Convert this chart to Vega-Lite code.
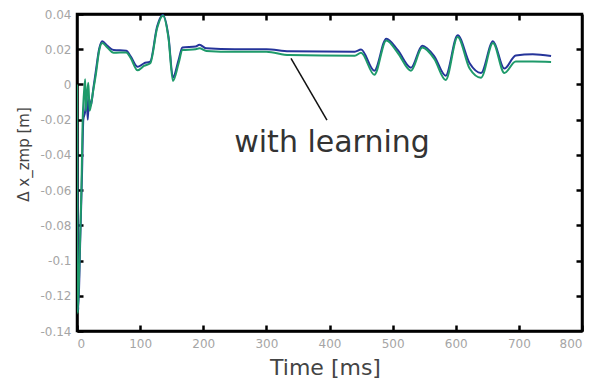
{
  "$schema": "https://vega.github.io/schema/vega-lite/v6.json",
  "autosize": "none",
  "padding": {"left": 77, "top": 14, "right": 24, "bottom": 49},
  "width": 505,
  "height": 317,
  "background": "white",
  "datasets": {
    "curves": [
      {"t": 0, "v": -0.005, "s": "blue"}, {"t": 2, "v": -0.128, "s": "blue"}, {"t": 5, "v": -0.09, "s": "blue"}, {"t": 8, "v": -0.05, "s": "blue"}, {"t": 10, "v": -0.02, "s": "blue"}, {"t": 13, "v": -0.015, "s": "blue"}, {"t": 15, "v": -0.005, "s": "blue"}, {"t": 17, "v": -0.02, "s": "blue"}, {"t": 19, "v": -0.008, "s": "blue"}, {"t": 22, "v": -0.012, "s": "blue"}, {"t": 26, "v": -0.002, "s": "blue"}, {"t": 30, "v": 0.008, "s": "blue"}, {"t": 35, "v": 0.02, "s": "blue"}, {"t": 40, "v": 0.0245, "s": "blue"}, {"t": 48, "v": 0.022, "s": "blue"}, {"t": 58, "v": 0.0195, "s": "blue"}, {"t": 78, "v": 0.0192, "s": "blue"}, {"t": 85, "v": 0.016, "s": "blue"}, {"t": 96, "v": 0.01, "s": "blue"}, {"t": 106, "v": 0.012, "s": "blue"}, {"t": 116, "v": 0.013, "s": "blue"}, {"t": 127, "v": 0.033, "s": "blue"}, {"t": 136, "v": 0.0395, "s": "blue"}, {"t": 145, "v": 0.027, "s": "blue"}, {"t": 152, "v": 0.004, "s": "blue"}, {"t": 161, "v": 0.014, "s": "blue"}, {"t": 167, "v": 0.021, "s": "blue"}, {"t": 188, "v": 0.0215, "s": "blue"}, {"t": 194, "v": 0.0225, "s": "blue"}, {"t": 205, "v": 0.0205, "s": "blue"}, {"t": 250, "v": 0.02, "s": "blue"}, {"t": 300, "v": 0.02, "s": "blue"}, {"t": 336, "v": 0.0188, "s": "blue"}, {"t": 440, "v": 0.0186, "s": "blue"}, {"t": 450, "v": 0.0198, "s": "blue"}, {"t": 471, "v": 0.0078, "s": "blue"}, {"t": 490, "v": 0.026, "s": "blue"}, {"t": 508, "v": 0.0196, "s": "blue"}, {"t": 529, "v": 0.0095, "s": "blue"}, {"t": 547, "v": 0.022, "s": "blue"}, {"t": 566, "v": 0.016, "s": "blue"}, {"t": 584, "v": 0.005, "s": "blue"}, {"t": 603, "v": 0.028, "s": "blue"}, {"t": 622, "v": 0.012, "s": "blue"}, {"t": 640, "v": 0.0065, "s": "blue"}, {"t": 659, "v": 0.0245, "s": "blue"}, {"t": 677, "v": 0.009, "s": "blue"}, {"t": 695, "v": 0.0165, "s": "blue"}, {"t": 722, "v": 0.0172, "s": "blue"}, {"t": 751, "v": 0.0162, "s": "blue"},
      {"t": 0, "v": 0, "s": "green"}, {"t": 1, "v": -0.13, "s": "green"}, {"t": 4, "v": -0.1, "s": "green"}, {"t": 7, "v": -0.06, "s": "green"}, {"t": 9, "v": -0.02, "s": "green"}, {"t": 11, "v": -0.005, "s": "green"}, {"t": 13, "v": 0.003, "s": "green"}, {"t": 14, "v": -0.015, "s": "green"}, {"t": 16, "v": -0.005, "s": "green"}, {"t": 18, "v": 0.001, "s": "green"}, {"t": 20, "v": -0.015, "s": "green"}, {"t": 25, "v": -0.005, "s": "green"}, {"t": 30, "v": 0.006, "s": "green"}, {"t": 35, "v": 0.019, "s": "green"}, {"t": 40, "v": 0.0235, "s": "green"}, {"t": 48, "v": 0.021, "s": "green"}, {"t": 58, "v": 0.018, "s": "green"}, {"t": 78, "v": 0.0182, "s": "green"}, {"t": 85, "v": 0.015, "s": "green"}, {"t": 96, "v": 0.008, "s": "green"}, {"t": 106, "v": 0.0105, "s": "green"}, {"t": 116, "v": 0.012, "s": "green"}, {"t": 127, "v": 0.032, "s": "green"}, {"t": 136, "v": 0.039, "s": "green"}, {"t": 145, "v": 0.026, "s": "green"}, {"t": 152, "v": 0.002, "s": "green"}, {"t": 161, "v": 0.012, "s": "green"}, {"t": 167, "v": 0.0195, "s": "green"}, {"t": 188, "v": 0.02, "s": "green"}, {"t": 194, "v": 0.0205, "s": "green"}, {"t": 205, "v": 0.019, "s": "green"}, {"t": 250, "v": 0.0185, "s": "green"}, {"t": 300, "v": 0.0185, "s": "green"}, {"t": 336, "v": 0.0167, "s": "green"}, {"t": 440, "v": 0.0163, "s": "green"}, {"t": 450, "v": 0.018, "s": "green"}, {"t": 471, "v": 0.0055, "s": "green"}, {"t": 490, "v": 0.025, "s": "green"}, {"t": 508, "v": 0.018, "s": "green"}, {"t": 529, "v": 0.0078, "s": "green"}, {"t": 547, "v": 0.021, "s": "green"}, {"t": 566, "v": 0.0145, "s": "green"}, {"t": 584, "v": 0.0025, "s": "green"}, {"t": 603, "v": 0.027, "s": "green"}, {"t": 622, "v": 0.009, "s": "green"}, {"t": 640, "v": 0.0038, "s": "green"}, {"t": 659, "v": 0.0235, "s": "green"}, {"t": 677, "v": 0.0065, "s": "green"}, {"t": 695, "v": 0.013, "s": "green"}, {"t": 722, "v": 0.013, "s": "green"}, {"t": 751, "v": 0.0128, "s": "green"}
    ],
    "arrow": [{"t1": 339, "v1": 0.0148, "t2": 396, "v2": -0.0202}],
    "note": [{"t": 404, "v": -0.0382, "label": "with learning"}]
  },
  "layer": [
    {
      "data": {"name": "curves"},
      "mark": {"type": "line", "strokeWidth": 2, "clip": true, "interpolate": "monotone"},
      "encoding": {
        "x": {"field": "t", "type": "quantitative",
              "scale": {"domain": [0, 800], "nice": false, "zero": false},
              "axis": {"orient": "bottom", "ticks": true, "tickSize": -6, "values": [0, 100, 200, 300, 400, 500, 600, 700, 800], "title": "Time [ms]", "titleFontSize": 22, "titleX": 248, "titleY": 43, "titleBaseline": "alphabetic", "labelPadding": 13, "labelFontSize": 12}},
        "y": {"field": "v", "type": "quantitative",
              "scale": {"domain": [-0.14, 0.04], "nice": false, "zero": false},
              "axis": {"orient": "left", "ticks": true, "tickSize": -6, "values": [-0.14, -0.12, -0.1, -0.08, -0.06, -0.04, -0.02, 0, 0.02, 0.04], "labelExpr": "replace(format(datum.value, '.2~f'), '−', '-')", "title": "Δ x_zmp [m]", "titleFontSize": 15, "titleY": 140, "titlePadding": 8, "labelPadding": 12, "labelFontSize": 12}},
        "color": {"field": "s", "type": "nominal", "scale": {"domain": ["blue", "green"], "range": ["#25349a", "#1e9a6a"]}, "legend": null},
        "order": {"field": "t", "type": "quantitative"}
      }
    },
    {
      "data": {"name": "arrow"},
      "mark": {"type": "rule", "color": "#111", "strokeWidth": 1.5},
      "encoding": {
        "x": {"field": "t1", "type": "quantitative", "axis": {"orient": "top", "ticks": true, "tickSize": -6, "values": [100, 200, 300, 400, 500, 600, 700], "labels": false, "title": null}},
        "y": {"field": "v1", "type": "quantitative", "axis": {"orient": "right", "ticks": true, "tickSize": -6, "values": [-0.12, -0.1, -0.08, -0.06, -0.04, -0.02, 0, 0.02], "labels": false, "title": null}},
        "x2": {"field": "t2"},
        "y2": {"field": "v2"}
      }
    },
    {
      "data": {"name": "note"},
      "mark": {"type": "text", "font": "DejaVu Sans", "fontSize": 30, "color": "#333", "align": "center", "baseline": "alphabetic"},
      "encoding": {
        "x": {"field": "t", "type": "quantitative", "axis": null},
        "y": {"field": "v", "type": "quantitative", "axis": null},
        "text": {"field": "label"}
      }
    }
  ],
  "resolve": {"axis": {"x": "independent", "y": "independent"}},
  "config": {
    "view": {"stroke": "black", "strokeWidth": 2.5},
    "axis": {"domainColor": "black", "domainWidth": 2.5, "tickColor": "black", "tickWidth": 2.5, "grid": false, "labelColor": "#a5a5a5", "labelFont": "DejaVu Sans", "titleColor": "#444", "titleFont": "DejaVu Sans", "titleFontWeight": "normal"}
  }
}
